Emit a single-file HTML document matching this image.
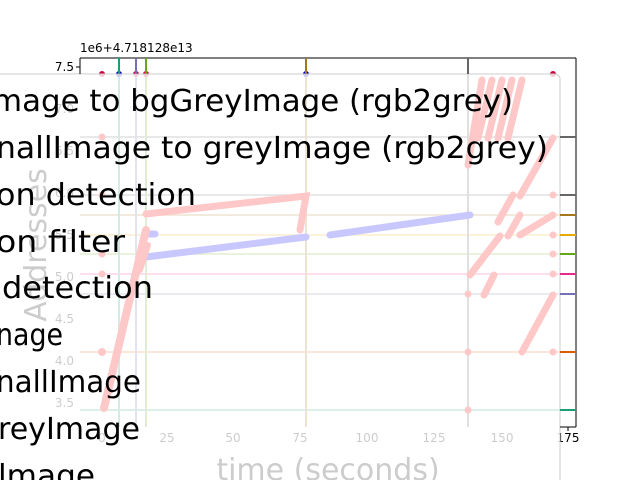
<!DOCTYPE html>
<html><head><meta charset="utf-8"><style>html,body{margin:0;padding:0;background:#fff;width:640px;height:480px;overflow:hidden}svg{display:block}</style></head>
<body>
<svg width="640" height="480" xmlns="http://www.w3.org/2000/svg" font-family="DejaVu Sans, Liberation Sans, sans-serif">
<rect width="640" height="480" fill="#fff"/>
<text x="80" y="52" font-size="12" fill="#000">1e6+4.718128e13</text>
<g stroke-width="1.5">
<line x1="80" y1="137" x2="576" y2="137" stroke="#666"/>
<line x1="80" y1="195" x2="576" y2="195" stroke="#666"/>
<line x1="80" y1="215" x2="576" y2="215" stroke="#a6761d"/>
<line x1="80" y1="235" x2="576" y2="235" stroke="#e6ab02"/>
<line x1="80" y1="254" x2="576" y2="254" stroke="#66a61e"/>
<line x1="80" y1="274" x2="576" y2="274" stroke="#e7298a"/>
<line x1="80" y1="294" x2="576" y2="294" stroke="#7570b3"/>
<line x1="80" y1="352" x2="576" y2="352" stroke="#d95f02"/>
<line x1="80" y1="410" x2="576" y2="410" stroke="#1b9e77"/>
<line x1="119" y1="58" x2="119" y2="427" stroke="#1b9e77" stroke-width="2"/>
<line x1="136" y1="58" x2="136" y2="427" stroke="#7570b3" stroke-width="2"/>
<line x1="146" y1="58" x2="146" y2="427" stroke="#66a61e" stroke-width="2"/>
<line x1="306" y1="58" x2="306" y2="427" stroke="#a6761d" stroke-width="2"/>
<line x1="468" y1="58" x2="468" y2="427" stroke="#666" stroke-width="2"/>
</g>
<g fill="#000" font-size="12" text-anchor="middle">
<text x="102" y="442">0</text><text x="167" y="442">25</text><text x="233" y="442">50</text><text x="300" y="442">75</text><text x="367" y="442">100</text><text x="434" y="442">125</text><text x="502" y="442">150</text><text x="568" y="442">175</text>
</g>
<g fill="#000" font-size="12" text-anchor="end">
<text x="74" y="113">7.0</text><text x="74" y="155">6.5</text><text x="74" y="197">6.0</text><text x="74" y="239">5.5</text><text x="74" y="281">5.0</text><text x="74" y="323">4.5</text><text x="74" y="365">4.0</text><text x="74" y="407">3.5</text>
</g>
<text x="328" y="480" font-size="30" text-anchor="middle" fill="#000">time (seconds)</text>
<text transform="translate(46,245) rotate(-90)" font-size="30" text-anchor="middle" fill="#000">Addresses</text>
<g stroke="#000"><line x1="76" y1="67" x2="80" y2="67"/><line x1="568" y1="427" x2="568" y2="431"/></g>
<text x="74" y="71" font-size="12" text-anchor="end">7.5</text>
<circle cx="102" cy="74" r="3" fill="#d0003a"/><circle cx="136" cy="74" r="3" fill="#d0003a"/><circle cx="146" cy="74" r="3" fill="#d0003a"/><circle cx="553" cy="74" r="3" fill="#d0003a"/>
<circle cx="119" cy="74" r="3" fill="#0000d0"/><circle cx="306" cy="74" r="3" fill="#0000d0"/>
<rect x="-20" y="74" width="580" height="440" rx="5" fill="#fff" fill-opacity="0.8" stroke="#ccc"/>
<!-- data (as seen) -->
<g fill="none" stroke-linecap="round">
<polyline points="146,257 306,237" stroke="#c8c8ff" stroke-width="7"/>
<polyline points="330,235 470,215" stroke="#c8c8ff" stroke-width="7"/>
<polyline points="146,234 155,234" stroke="#c8c8ff" stroke-width="7"/>
<polyline points="146,214 306,196 300,230" stroke="#ffc8c8" stroke-width="7"/>
<polyline points="104,408 146,230" stroke="#ffc8c8" stroke-width="8"/>
<polyline points="140,270 148,245" stroke="#ffc8c8" stroke-width="6"/>
<g stroke="#ffc8c8" stroke-width="7">
<line x1="482" y1="80" x2="468" y2="165"/><line x1="492" y1="80" x2="478" y2="138"/>
<line x1="502" y1="80" x2="488" y2="138"/><line x1="512" y1="80" x2="498" y2="138"/>
<line x1="522" y1="80" x2="508" y2="138"/>
<line x1="553" y1="138" x2="520" y2="196"/><line x1="513" y1="195" x2="498" y2="222"/>
<line x1="520" y1="215" x2="508" y2="236"/><line x1="553" y1="215" x2="520" y2="235"/>
<line x1="500" y1="236" x2="470" y2="275"/><line x1="494" y1="275" x2="484" y2="295"/>
<line x1="553" y1="295" x2="522" y2="352"/>
</g>
<g fill="#ffc8c8" stroke="none">
<circle cx="102" cy="137" r="3.5"/><circle cx="102" cy="195" r="3.5"/><circle cx="102" cy="254" r="3.5"/><circle cx="102" cy="274" r="3.5"/><circle cx="102" cy="352" r="4"/>
<circle cx="553" cy="195" r="3.5"/><circle cx="553" cy="235" r="3.5"/><circle cx="553" cy="254" r="3.5"/><circle cx="553" cy="274" r="3.5"/><circle cx="553" cy="352" r="3.5"/>
<circle cx="468" cy="352" r="3.5"/><circle cx="468" cy="410" r="3.5"/><circle cx="468" cy="294" r="3.5"/>
</g>
</g>
<g fill="none" stroke="#000" stroke-width="1">
<line x1="80" y1="58" x2="576" y2="58"/><line x1="576" y1="58" x2="576" y2="427"/>
<line x1="80" y1="58" x2="80" y2="74"/><line x1="560" y1="427" x2="576" y2="427"/>
</g>
<g stroke-width="2">
<line x1="119" y1="58" x2="119" y2="74" stroke="#1b9e77"/><line x1="136" y1="58" x2="136" y2="74" stroke="#7570b3"/>
<line x1="146" y1="58" x2="146" y2="74" stroke="#66a61e"/><line x1="306" y1="58" x2="306" y2="74" stroke="#a6761d"/>
<line x1="468" y1="58" x2="468" y2="74" stroke="#666"/>
<line x1="560" y1="137" x2="576" y2="137" stroke="#666"/><line x1="560" y1="195" x2="576" y2="195" stroke="#666"/>
<line x1="560" y1="215" x2="576" y2="215" stroke="#a6761d"/><line x1="560" y1="235" x2="576" y2="235" stroke="#e6ab02"/>
<line x1="560" y1="254" x2="576" y2="254" stroke="#66a61e"/><line x1="560" y1="274" x2="576" y2="274" stroke="#e7298a"/>
<line x1="560" y1="294" x2="576" y2="294" stroke="#7570b3"/><line x1="560" y1="352" x2="576" y2="352" stroke="#d95f02"/>
<line x1="560" y1="410" x2="576" y2="410" stroke="#1b9e77"/>
</g>
<g fill="#000" font-size="30">
<text x="-8" y="111" textLength="521" lengthAdjust="spacingAndGlyphs">mage to bgGreyImage (rgb2grey)</text>
<text x="-4" y="158" textLength="552" lengthAdjust="spacingAndGlyphs">nallImage to greyImage (rgb2grey)</text>
<text x="-4" y="205" textLength="200" lengthAdjust="spacingAndGlyphs">on detection</text>
<text x="-4" y="252" textLength="129" lengthAdjust="spacingAndGlyphs">on filter</text>
<text x="2" y="298" textLength="151" lengthAdjust="spacingAndGlyphs">detection</text>
<text x="-4" y="345" textLength="67" lengthAdjust="spacingAndGlyphs">nage</text>
<text x="-4" y="392" textLength="145" lengthAdjust="spacingAndGlyphs">nallImage</text>
<text x="-2" y="439" textLength="142" lengthAdjust="spacingAndGlyphs">reyImage</text>
<text x="-2" y="486" textLength="97" lengthAdjust="spacingAndGlyphs">lmage</text>
</g>
</svg>
</body></html>
